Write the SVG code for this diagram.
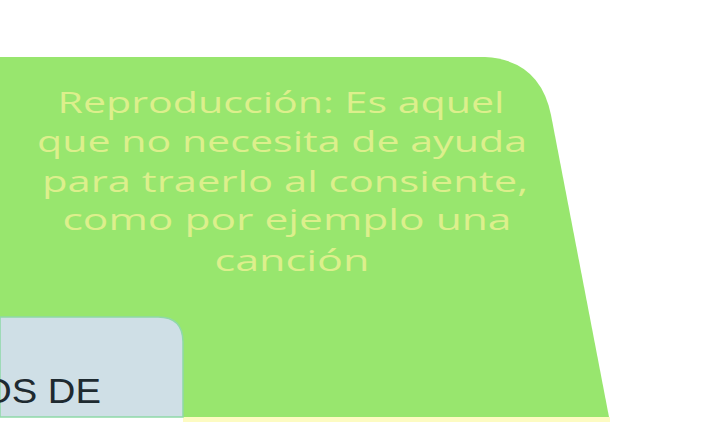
<svg xmlns="http://www.w3.org/2000/svg" width="709" height="425" viewBox="0 0 709 425">
<style>
.t{font-family:"Open Sans","Liberation Sans",sans-serif;font-size:29px;fill:#dcef8c;text-anchor:middle}
.b{font-family:"Liberation Sans","Open Sans",sans-serif;font-size:35px;fill:#1e2a30}
</style>
<rect width="709" height="425" fill="#ffffff"/>
<g id="green-node">
<path d="M0,57 L485,57 Q540,60 551,115 L609,417 L0,417 Z" fill="#98e66e"/>
<rect x="183" y="417" width="427" height="5" fill="#fdfbc2"/>
<text class="t" x="281" y="113" textLength="447" lengthAdjust="spacingAndGlyphs">Reproducción: Es aquel</text>
<text class="t" x="282" y="152" textLength="490" lengthAdjust="spacingAndGlyphs">que no necesita de ayuda</text>
<text class="t" x="285" y="192" textLength="486" lengthAdjust="spacingAndGlyphs">para traerlo al consiente,</text>
<text class="t" x="287" y="230" textLength="449" lengthAdjust="spacingAndGlyphs">como por ejemplo una</text>
<text class="t" x="292" y="271" textLength="155" lengthAdjust="spacingAndGlyphs">canción</text>
</g>
<g id="blue-node">
<path d="M0,317 L158,317 Q183,317 183,342 L183,417 L0,417 Z" fill="#cfdfe6" stroke="#8fd9a8" stroke-width="1.5"/>
<text class="b" x="-18" y="403" textLength="119" lengthAdjust="spacingAndGlyphs">OS DE</text>
</g>
<g id="connectors"/>
</svg>
